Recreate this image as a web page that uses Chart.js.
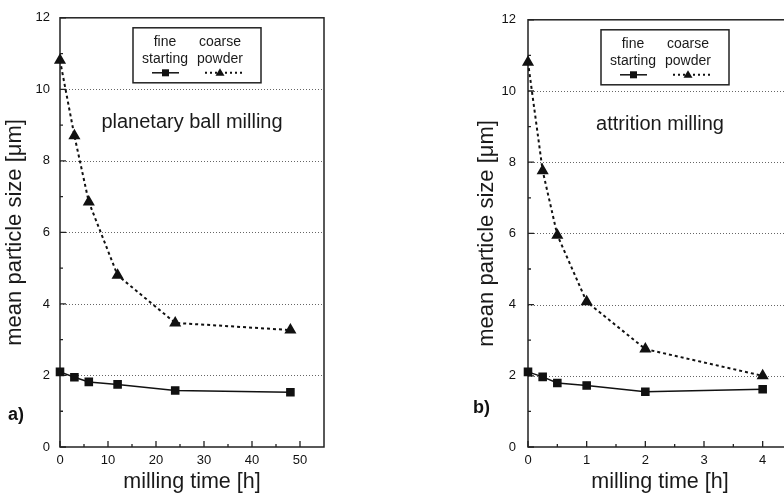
<!DOCTYPE html>
<html>
<head>
<meta charset="utf-8">
<script src="https://cdn.jsdelivr.net/npm/chart.js@4"></script>
<style>
  body { margin: 0; background: #fff; }
  #wrap { position: relative; width: 784px; height: 493px; overflow: hidden; background: #fff; }
  .box { position: absolute; top: 0; height: 493px; }
  .tag { position: absolute; font: bold 18px "Liberation Sans", Arial, sans-serif; color: #111; }
</style>
</head>
<body>
<div id="wrap">
  <div class="box" style="left:0;width:345px"><canvas id="chart-a"></canvas></div>
  <div class="box" style="left:455px;width:370px"><canvas id="chart-b"></canvas></div>
  <div class="tag" style="left:8px;top:404px">a)</div>
  <div class="tag" style="left:473px;top:397px">b)</div>
</div>
<script>
// panel a) planetary ball milling, time in h
let timeA = [0, 3, 6, 12, 24, 48];
let fineA = [2.10, 1.95, 1.82, 1.75, 1.58, 1.53];
let coarseA = [10.81, 8.70, 6.85, 4.80, 3.47, 3.27];
let xMajorA = [0, 10, 20, 30, 40, 50];
let xMinorA = [5, 15, 25, 35, 45];

// panel b) attrition milling
let timeB = [0, 0.25, 0.5, 1, 2, 4];
let fineB = [2.11, 1.97, 1.80, 1.73, 1.55, 1.62];
let coarseB = [10.81, 7.76, 5.95, 4.08, 2.75, 2.00];
let xMajorB = [0, 1, 2, 3, 4];
let xMinorB = [0.5, 1.5, 2.5, 3.5];

let yMajor = [0, 2, 4, 6, 8, 10, 12];
let yMinor = [1, 3, 5, 7, 9, 11];
let gridY = [2, 4, 6, 8, 10];

Chart.defaults.font.family = '"Liberation Sans", Arial, sans-serif';
Chart.defaults.color = '#111';

const FONT = '"Liberation Sans", Arial, sans-serif';

const framePlugin = {
    id: 'frame',
    beforeDatasetsDraw(chart, args, opts) {
        const {ctx, chartArea: a, scales: {x, y}} = chart;
        ctx.save();
        // dotted horizontal grid
        ctx.strokeStyle = '#666';
        ctx.lineWidth = 1;
        ctx.setLineDash([1, 2]);
        gridY.forEach(v => {
            let py = Math.round(y.getPixelForValue(v)) + 0.5;
            ctx.beginPath();
            ctx.moveTo(a.left, py);
            ctx.lineTo(a.right, py);
            ctx.stroke();
        });
        ctx.setLineDash([]);
        // box
        ctx.strokeStyle = '#222';
        ctx.lineWidth = 1.5;
        ctx.strokeRect(a.left, a.top, a.right - a.left, a.bottom - a.top);
        // inward ticks
        ctx.lineWidth = 1.3;
        ctx.beginPath();
        opts.xMajor.forEach(v => { let px = x.getPixelForValue(v); ctx.moveTo(px, a.bottom); ctx.lineTo(px, a.bottom - 6); });
        opts.xMinor.forEach(v => { let px = x.getPixelForValue(v); ctx.moveTo(px, a.bottom); ctx.lineTo(px, a.bottom - 3); });
        yMajor.forEach(v => { let py = y.getPixelForValue(v); ctx.moveTo(a.left, py); ctx.lineTo(a.left + 6, py); });
        yMinor.forEach(v => { let py = y.getPixelForValue(v); ctx.moveTo(a.left, py); ctx.lineTo(a.left + 3, py); });
        ctx.stroke();
        // panel note
        ctx.fillStyle = '#1a1a1a';
        ctx.font = '20px ' + FONT;
        ctx.textAlign = 'center';
        ctx.textBaseline = 'middle';
        ctx.fillText(opts.note, a.left + 132, a.top + 105);
        ctx.restore();
    },
    afterDatasetsDraw(chart) {
        const {ctx, chartArea: a} = chart;
        let bx = a.left + 73, by = a.top + 10;
        ctx.save();
        ctx.fillStyle = '#fff';
        ctx.fillRect(bx, by, 128, 55);
        ctx.strokeStyle = '#222';
        ctx.lineWidth = 1.5;
        ctx.strokeRect(bx, by, 128, 55);
        ctx.fillStyle = '#1a1a1a';
        ctx.font = '14px ' + FONT;
        ctx.textAlign = 'center';
        ctx.textBaseline = 'middle';
        ctx.fillText('fine', bx + 32, by + 14);
        ctx.fillText('starting', bx + 32, by + 31);
        ctx.fillText('coarse', bx + 87, by + 14);
        ctx.fillText('powder', bx + 87, by + 31);
        // samples
        let sy = by + 45;
        ctx.strokeStyle = '#111';
        ctx.lineWidth = 1.5;
        ctx.beginPath();
        ctx.moveTo(bx + 19, sy);
        ctx.lineTo(bx + 46, sy);
        ctx.stroke();
        ctx.fillStyle = '#111';
        ctx.fillRect(bx + 29, sy - 3.5, 7, 7);
        ctx.setLineDash([2, 3]);
        ctx.lineWidth = 2;
        ctx.beginPath();
        ctx.moveTo(bx + 72, sy);
        ctx.lineTo(bx + 109, sy);
        ctx.stroke();
        ctx.setLineDash([]);
        ctx.beginPath();
        ctx.moveTo(bx + 87, sy - 4.5);
        ctx.lineTo(bx + 91.5, sy + 3);
        ctx.lineTo(bx + 82.5, sy + 3);
        ctx.closePath();
        ctx.fill();
        ctx.restore();
    }
};

function makePanel(id, times, fine, coarse, xMax, xMajor, xMinor, note, padLeft, yWidth, yTickPad, padRight) {
    let el = document.getElementById(id);
    return new Chart(el, {
        type: 'line',
        data: {
            datasets: [{
                label: 'fine starting',
                data: times.map((t, i) => ({x: t, y: fine[i]})),
                borderColor: '#111',
                backgroundColor: '#111',
                borderWidth: 1.5,
                pointStyle: 'rect',
                pointRadius: 5,
                pointHoverRadius: 5,
                tension: 0,
                clip: false
            }, {
                label: 'coarse powder',
                data: times.map((t, i) => ({x: t, y: coarse[i]})),
                borderColor: '#111',
                backgroundColor: '#111',
                borderWidth: 2,
                borderDash: [3, 3],
                pointStyle: 'triangle',
                pointRadius: 5,
                pointHoverRadius: 5,
                tension: 0,
                clip: false
            }]
        },
        options: {
            responsive: true,
            maintainAspectRatio: false,
            animation: false,
            events: [],
            layout: { padding: { left: padLeft, right: padRight, top: 17, bottom: 0 } },
            plugins: {
                legend: { display: false },
                tooltip: { enabled: false },
                frame: { note: note, xMajor: xMajor, xMinor: xMinor }
            },
            scales: {
                x: {
                    type: 'linear',
                    min: 0,
                    max: xMax,
                    grid: { display: false, drawTicks: false },
                    border: { display: false },
                    afterBuildTicks: s => { s.ticks = xMajor.map(v => ({value: v})); },
                    afterFit: s => { s.height = 46; },
                    ticks: { padding: 6, font: { size: 13 }, color: '#111', maxRotation: 0 },
                    title: { display: true, text: 'milling time [h]', font: { size: 21.5, lineHeight: 1 }, padding: 0, color: '#1a1a1a' }
                },
                y: {
                    min: 0,
                    max: 12,
                    grid: { display: false, drawTicks: false },
                    border: { display: false },
                    afterBuildTicks: s => { s.ticks = yMajor.map(v => ({value: v})); },
                    afterFit: s => { s.width = yWidth; },
                    ticks: { padding: yTickPad, font: { size: 13 }, color: '#111' },
                    title: { display: true, text: 'mean particle size [μm]', font: { size: 22, lineHeight: 1 }, padding: 0, color: '#1a1a1a' }
                }
            }
        },
        plugins: [framePlugin]
    });
}

let chartA = makePanel('chart-a', timeA, fineA, coarseA, 55, xMajorA, xMinorA, 'planetary ball milling', 4, 56, 10, 21);
let chartB = makePanel('chart-b', timeB, fineB, coarseB, 4.5, xMajorB, xMinorB, 'attrition milling', 21, 52, 12, 33);
</script>
</body>
</html>
